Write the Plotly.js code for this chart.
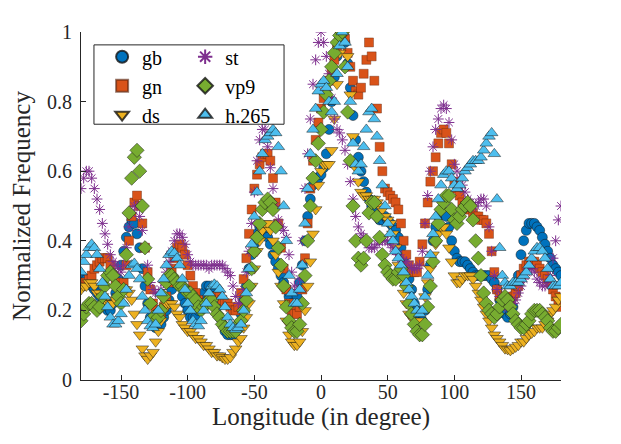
<!DOCTYPE html>
<html>
<head>
<meta charset="utf-8">
<script src="https://cdn.plot.ly/plotly-3.0.1.min.js"></script>
<style>html,body{margin:0;padding:0;background:#fff;}#chart{width:621px;height:444px;}</style>
</head>
<body>
<div id="chart"></div>
<script>
const longitude = [
-180,-178,-176,-174,-172,-170,-168,-166,-164,-162,
-160,-158,-156,-154,-152,-150,-148,-146,-144,-142,
-140,-138,-136,-134,-132,-130,-128,-126,-124,-122,
-120,-118,-116,-114,-112,-110,-108,-106,-104,-102,
-100,-98,-96,-94,-92,-90,-88,-86,-84,-82,
-80,-78,-76,-74,-72,-70,-68,-66,-64,-62,
-60,-58,-56,-54,-52,-50,-48,-46,-44,-42,
-40,-38,-36,-34,-32,-30,-28,-26,-24,-22,
-20,-18,-16,-14,-12,-10,-8,-6,-4,-2,
0,2,4,6,8,10,12,14,16,18,
20,22,24,26,28,30,32,34,36,38,
40,42,44,46,48,50,52,54,56,58,
60,62,64,66,68,70,72,74,76,78,
80,82,84,86,88,90,92,94,96,98,
100,102,104,106,108,110,112,114,116,118,
120,122,124,126,128,130,132,134,136,138,
140,142,144,146,148,150,152,154,156,158,
160,162,164,166,168,170,172,174,176,178,
180];

const gb = [
.30,.29,.29,.28,.27,.26,.25,.24,.22,.21,
.20,.20,.22,.25,.29,.33,.37,.41,.44,.46,
.45,.42,.38,.32,.27,.22,.18,.16,.15,.15,
.16,.18,.20,.23,.26,.28,.28,.27,.24,.22,
.20,.18,.18,.18,.20,.23,.25,.27,.27,.26,
.24,.21,.18,.16,.14,.13,.13,.13,.14,.16,
.19,.23,.27,.32,.36,.39,.42,.44,.44,.43,
.41,.39,.36,.34,.32,.30,.28,.26,.24,.22,
.22,.24,.28,.33,.40,.47,.52,.56,.58,.58,
.59,.61,.65,.72,.80,.87,.93,.98,1.0,.97,
.91,.84,.76,.69,.64,.60,.57,.54,.52,.50,
.48,.47,.46,.46,.47,.46,.45,.44,.43,.41,
.38,.35,.32,.29,.26,.22,.20,.18,.17,.20,
.26,.33,.40,.44,.47,.48,.48,.47,.44,.40,
.37,.35,.34,.34,.34,.33,.32,.31,.30,.30,
.30,.30,.30,.30,.29,.28,.26,.23,.21,.19,
.18,.19,.21,.25,.30,.36,.40,.43,.45,.45,
.45,.44,.43,.41,.39,.37,.35,.33,.32,.31,
.30];

const gn = [
.27,.28,.28,.29,.30,.32,.33,.34,.35,.35,
.35,.33,.30,.28,.27,.26,.28,.33,.40,.47,
.51,.53,.50,.45,.38,.31,.26,.22,.20,.19,
.19,.21,.24,.28,.32,.35,.38,.39,.38,.36,
.33,.30,.27,.25,.23,.22,.22,.22,.23,.24,
.24,.24,.24,.23,.22,.22,.21,.20,.20,.21,
.25,.29,.35,.42,.49,.55,.59,.62,.64,.65,
.65,.63,.58,.51,.45,.38,.32,.26,.22,.20,
.19,.19,.21,.26,.35,.45,.55,.63,.69,.74,
.78,.81,.83,.86,.89,.92,.95,.99,1.0,.98,
.94,.90,.86,.83,.82,.84,.88,.92,.97,.93,
.86,.78,.67,.60,.55,.54,.53,.52,.51,.49,
.45,.40,.36,.33,.31,.31,.31,.34,.39,.45,
.51,.57,.60,.64,.68,.71,.72,.71,.68,.62,
.57,.55,.53,.51,.50,.49,.49,.48,.47,.47,
.46,.46,.45,.42,.37,.31,.26,.24,.23,.23,
.23,.23,.24,.25,.27,.30,.32,.33,.34,.34,
.34,.33,.32,.31,.30,.29,.28,.26,.24,.22,
.21];

const ds = [
.26,.27,.27,.28,.28,.27,.25,.25,.24,.23,
.22,.22,.22,.23,.24,.25,.26,.26,.25,.23,
.19,.16,.13,.09,.07,.06,.07,.08,.11,.14,
.17,.20,.22,.22,.22,.21,.19,.18,.16,.15,
.14,.14,.13,.12,.12,.11,.10,.10,.09,.08,
.08,.07,.07,.065,.06,.06,.065,.08,.09,.11,
.12,.15,.18,.22,.27,.32,.37,.40,.43,.45,
.45,.43,.40,.36,.31,.27,.22,.17,.13,.11,
.10,.10,.11,.14,.20,.27,.34,.42,.49,.56,
.60,.62,.62,.62,.66,.75,.85,.94,.99,1.0,
.93,.82,.70,.61,.57,.54,.53,.53,.52,.52,
.52,.51,.50,.49,.47,.46,.45,.42,.38,.33,
.29,.25,.22,.19,.18,.17,.16,.17,.20,.24,
.28,.32,.36,.39,.42,.44,.44,.42,.38,.34,
.30,.28,.28,.29,.30,.30,.30,.29,.27,.25,
.23,.21,.19,.17,.15,.13,.12,.11,.10,.09,
.088,.085,.09,.095,.10,.11,.11,.12,.13,.135,
.14,.15,.15,.15,.16,.17,.19,.20,.21,.23,
.24];

const st = [
.55,.58,.60,.60,.58,.55,.52,.49,.45,.42,
.39,.36,.34,.33,.32,.31,.33,.38,.44,.48,
.50,.50,.47,.43,.38,.33,.28,.26,.25,.25,
.26,.28,.31,.34,.37,.40,.42,.42,.41,.39,
.36,.34,.33,.33,.33,.33,.33,.33,.32,.33,
.33,.33,.33,.33,.32,.31,.30,.27,.24,.22,
.22,.26,.31,.37,.45,.54,.63,.69,.72,.72,
.67,.61,.55,.50,.46,.44,.43,.41,.36,.31,
.27,.26,.29,.40,.55,.65,.75,.85,.92,.97,
1.0,.97,.93,.88,.81,.75,.72,.71,.69,.66,
.62,.57,.52,.47,.44,.42,.41,.40,.38,.38,
.38,.39,.40,.40,.40,.40,.39,.38,.37,.36,
.35,.34,.34,.33,.32,.32,.32,.33,.37,.45,
.53,.60,.67,.72,.75,.78,.79,.78,.74,.69,
.62,.60,.58,.56,.54,.52,.51,.50,.50,.51,
.52,.52,.50,.44,.37,.30,.26,.24,.22,.21,
.21,.21,.22,.23,.25,.27,.29,.31,.32,.32,
.31,.29,.28,.27,.27,.28,.30,.35,.40,.46,
.50];

const vp9 = [
.17,.19,.21,.22,.22,.21,.20,.21,.24,.27,
.30,.31,.30,.27,.24,.22,.26,.36,.48,.58,
.64,.66,.60,.50,.38,.29,.22,.18,.17,.18,
.20,.24,.28,.30,.30,.29,.28,.27,.27,.26,
.25,.25,.24,.23,.21,.20,.21,.22,.23,.23,
.21,.19,.18,.16,.15,.14,.14,.14,.14,.16,
.17,.20,.23,.27,.32,.37,.41,.45,.49,.51,
.52,.51,.49,.44,.38,.33,.27,.21,.17,.15,
.14,.14,.16,.22,.30,.40,.50,.58,.63,.68,
.72,.77,.82,.86,.90,.94,.97,.99,1.0,.90,
.77,.63,.50,.40,.35,.33,.35,.40,.48,.51,
.51,.47,.41,.36,.33,.31,.30,.29,.29,.31,
.32,.30,.27,.22,.19,.16,.14,.13,.13,.16,
.21,.27,.34,.40,.45,.49,.51,.53,.53,.49,
.46,.45,.47,.49,.50,.51,.50,.46,.40,.35,
.30,.25,.22,.20,.19,.18,.19,.21,.23,.24,
.23,.21,.19,.17,.16,.15,.15,.16,.17,.19,
.20,.20,.20,.19,.18,.17,.15,.14,.14,.15,
.16];

const h265 = [
.31,.34,.36,.38,.39,.38,.36,.32,.28,.24,
.21,.18,.16,.16,.17,.19,.22,.26,.30,.33,
.335,.32,.29,.24,.20,.17,.155,.15,.16,.20,
.25,.29,.33,.36,.37,.365,.35,.33,.29,.26,
.22,.20,.17,.16,.155,.17,.20,.22,.25,.27,
.275,.27,.26,.24,.21,.18,.16,.15,.145,.15,
.16,.20,.25,.32,.39,.47,.54,.60,.65,.69,
.70,.71,.72,.71,.67,.60,.50,.40,.30,.25,
.22,.22,.26,.33,.45,.55,.65,.72,.78,.83,
.85,.86,.84,.80,.77,.80,.88,.96,1.0,.97,
.90,.80,.68,.62,.60,.62,.67,.72,.77,.78,
.75,.70,.63,.56,.50,.45,.42,.40,.37,.35,
.33,.31,.28,.26,.24,.22,.20,.19,.20,.24,
.30,.36,.42,.47,.52,.56,.59,.60,.60,.58,
.56,.55,.56,.58,.60,.61,.62,.63,.63,.63,
.64,.66,.68,.70,.71,.65,.52,.38,.30,.28,
.27,.27,.28,.28,.28,.29,.30,.31,.33,.35,
.37,.38,.38,.37,.35,.32,.29,.27,.27,.27,
.28];

const xTicks = [-150,-100,-50,0,50,100,150];
const yTicks = [0,0.2,0.4,0.6,0.8,1];

const serif = 'Liberation Serif';
const edge = 'rgba(20,20,20,0.8)';

function tr(name, y, symbol, color, size, legend, lineColor, lw){
  return {
    x: longitude, y: y, name: name, type: 'scatter', mode: 'markers',
    legend: legend,
    marker: {symbol: symbol, color: color, size: size,
             line: {color: lineColor || edge, width: lw === undefined ? 0.6 : lw}}
  };
}

const data = [
  tr('gb', gb, 'circle', '#0072BD', 10, 'legend'),
  tr('gn', gn, 'square', '#D95319', 9, 'legend', 'rgba(80,30,10,0.6)', 0.6),
  tr('ds', ds, 'triangle-down', '#EDB120', 11, 'legend'),
  tr('st', st, 'asterisk-open', '#7E2F8E', 9, 'legend2', '#7E2F8E', 1),
  tr('vp9', vp9, 'diamond', '#77AC30', 11, 'legend2'),
  tr('h.265', h265, 'triangle-up', '#4DBEEE', 11, 'legend2')
];

const legendCommon = {
  font: {family: serif, size: 20, color: '#000'},
  bgcolor: 'rgba(0,0,0,0)', borderwidth: 0,
  yanchor: 'top', xanchor: 'left', tracegroupgap: 0, itemsizing: 'constant'
};

const layout = {
  width: 621, height: 444,
  margin: {l: 81, r: 60, t: 32, b: 64},
  paper_bgcolor: '#fff', plot_bgcolor: '#fff',
  showlegend: true,
  legend: Object.assign({x: 0.044, y: 0.985}, legendCommon),
  legend2: Object.assign({x: 0.217, y: 0.985}, legendCommon),
  xaxis: {
    range: [-180, 180], tickvals: xTicks, ticktext: xTicks.map(String),
    ticks: 'inside', ticklen: 5, tickcolor: '#262626', tickwidth: 1,
    showline: true, linecolor: '#262626', linewidth: 1, mirror: false,
    showgrid: false, zeroline: false, ticklabelstandoff: -6,
    tickfont: {family: serif, size: 20, color: '#262626'},
    title: {text: 'Longitude (in degree)', font: {family: serif, size: 25, color: '#262626'}, standoff: 3}
  },
  yaxis: {
    range: [0, 1], tickvals: yTicks, ticktext: yTicks.map(String),
    ticks: 'inside', ticklen: 5, tickcolor: '#262626', tickwidth: 1,
    showline: true, linecolor: '#262626', linewidth: 1, mirror: false,
    showgrid: false, zeroline: false, ticklabelstandoff: 4,
    tickfont: {family: serif, size: 20, color: '#262626'},
    title: {text: 'Normalized Frequency', font: {family: serif, size: 25, color: '#262626'}, standoff: 9}
  },
  shapes: [{
    type: 'rect', xref: 'paper', yref: 'paper',
    x0: 0.027, x1: 0.423, y0: 0.735, y1: 0.963,
    line: {color: '#262626', width: 1}, fillcolor: '#fff', layer: 'above'
  }]
};

const lens = [gb, gn, ds, st, vp9, h265].map(a => a.length);
if (lens.some(n => n !== longitude.length)) console.error('length mismatch', longitude.length, lens);

Plotly.newPlot('chart', data, layout, {staticPlot: true, displayModeBar: false});
</script>
</body>
</html>
